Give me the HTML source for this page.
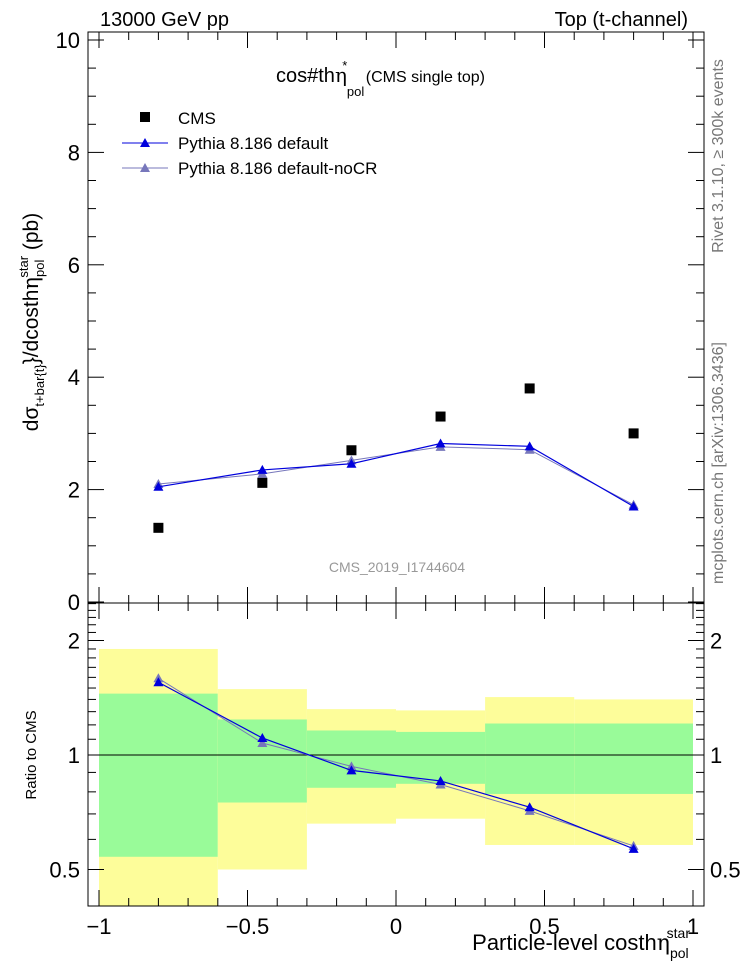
<!DOCTYPE html>
<html><head><meta charset="utf-8"><style>
body{margin:0;background:#fff}
svg{display:block;font-family:"Liberation Sans",sans-serif}
</style></head><body>
<svg id="c" width="746" height="972" viewBox="0 0 746 972"></svg>
<script>
const xCenters=[-0.8,-0.45,-0.15,0.15,0.45,0.8];
const binEdges=[-1,-0.6,-0.3,0,0.3,0.6,1];
const cmsVals=[1.32,2.12,2.7,3.3,3.8,3.0];
const pyDefault=[2.05,2.35,2.46,2.82,2.77,1.70];
const pyNoCR=[2.1,2.28,2.52,2.76,2.71,1.73];
const yellowHi=[1.9,1.49,1.32,1.31,1.42,1.40];
const yellowLo=[0.38,0.5,0.66,0.68,0.58,0.58];
const greenHi=[1.45,1.24,1.16,1.15,1.21,1.21];
const greenLo=[0.54,0.75,0.82,0.84,0.79,0.79];
const mainTicks=[0,2,4,6,8,10];
const ratioTicks=[0.5,1,2];
const xTicks=[-1,-0.5,0,0.5,1];
const xTickLabels=["−1","−0.5","0","0.5","1"];

const svg=document.getElementById('c');
const NS='http://www.w3.org/2000/svg';
function el(t,a,p){const e=document.createElementNS(NS,t);for(const k in a)e.setAttribute(k,a[k]);(p||svg).appendChild(e);return e;}
const L=88,R=704,T=32,MB=603,RB=906;
const X=v=>99+(v+1)*297;
const Y=v=>602-v*56.2;
const YR=v=>755-Math.log2(v)*114.5;

for(let i=0;i<6;i++){
  let x0=X(binEdges[i]),x1=X(binEdges[i+1]);
  let r=el('rect',{x:x0,y:YR(yellowHi[i]),width:x1-x0,height:Math.min(RB,YR(yellowLo[i]))-YR(yellowHi[i]),fill:'#fdfd9a'});
  
  let g=el('rect',{x:x0,y:YR(greenHi[i]),width:x1-x0,height:YR(greenLo[i])-YR(greenHi[i]),fill:'#99fb99'});
  
}
el('line',{x1:L,x2:R,y1:YR(1),y2:YR(1),stroke:'#000','stroke-width':1});

el('rect',{x:L,y:T,width:R-L,height:MB-T,fill:'none',stroke:'#000'});
el('rect',{x:L,y:MB,width:R-L,height:RB-MB,fill:'none',stroke:'#000'});

[[T,MB],[MB,RB]].forEach(([t,b])=>{
  for(let v=-1;v<=1.001;v+=0.1){
    const major=Math.abs(v*2-Math.round(v*2))<1e-6;
    const h=major?16:8;const x=X(v);
    el('line',{x1:x,x2:x,y1:b,y2:b-h,stroke:'#000'});
    el('line',{x1:x,x2:x,y1:t,y2:t+h,stroke:'#000'});
  }
});
xTicks.forEach((v,i)=>{let t=el('text',{x:X(v),y:934,'font-size':22,'text-anchor':'middle'});t.textContent=xTickLabels[i];
});

for(let v=0;v<=10.01;v+=0.5){
  const major=Math.abs(v-Math.round(v/2)*2)<1e-6;const h=major?16:8;const y=Y(v);
  el('line',{x1:L,x2:L+h,y1:y,y2:y,stroke:'#000'});el('line',{x1:R,x2:R-h,y1:y,y2:y,stroke:'#000'});
}
mainTicks.forEach(v=>{let t=el('text',{x:80,y:Y(v)+8,'font-size':22,'text-anchor':'end'});t.textContent=String(v);
});

for(let v=0.4;v<=2.51;v+=0.1){
  const vv=Math.round(v*10)/10;const major=ratioTicks.includes(vv);const h=major?16:8;const y=YR(vv);
  if(y<MB||y>RB)continue;
  el('line',{x1:L,x2:L+h,y1:y,y2:y,stroke:'#000'});el('line',{x1:R,x2:R-h,y1:y,y2:y,stroke:'#000'});
}
ratioTicks.forEach(v=>{
  let t=el('text',{x:80,y:YR(v)+8,'font-size':22,'text-anchor':'end'});t.textContent=String(v);
  
  let t2=el('text',{x:710,y:YR(v)+8,'font-size':22});t2.textContent=String(v);
  
});

function tri(x,y,c,name){let p=el('polygon',{points:`${x},${y-5} ${x-5},${y+4} ${x+5},${y+4}`,fill:c});
}
function series(vals,c,w,name,fy){
  el('polyline',{points:vals.map((v,i)=>X(xCenters[i])+','+fy(v,i)).join(' '),fill:'none',stroke:c,'stroke-width':w});
  vals.forEach((v,i)=>tri(X(xCenters[i]),fy(v,i),c,name+'-point'));
}
series(pyNoCR,'#7777bb',1,'nocr',v=>Y(v));
series(pyDefault,'#0000dd',1.2,'default',v=>Y(v));
cmsVals.forEach((v,i)=>{let r=el('rect',{x:X(xCenters[i])-5,y:Y(v)-5,width:10,height:10,fill:'#000'});
});
series(pyNoCR,'#7777bb',1,'nocr-ratio',(v,i)=>YR(v/cmsVals[i]));
series(pyDefault,'#0000dd',1.2,'default-ratio',(v,i)=>YR(v/cmsVals[i]));
</script>
<svg style="position:absolute;left:0;top:0" width="746" height="972" font-family="Liberation Sans, sans-serif">
<text x="100" y="26" font-size="20">13000 GeV pp</text>
<text x="688" y="26" font-size="20" text-anchor="end">Top (t-channel)</text>
<text x="276" y="82" font-size="20">cos#th<tspan font-family="DejaVu Serif">η</tspan><tspan font-size="13" dy="14">pol</tspan><tspan font-size="13" dx="-22" dy="-26">*</tspan><tspan font-size="16" dx="14" dy="12"> (CMS single top)</tspan></text>
<g>
<rect x="140" y="112" width="10" height="10" fill="#000"/>
<text x="178" y="124" font-size="17">CMS</text>
<line x1="122" x2="168" y1="143" y2="143" stroke="#0000dd"/><polygon points="145,138 140,147 150,147" fill="#0000dd"/>
<text x="178" y="149" font-size="17">Pythia 8.186 default</text>
<line x1="122" x2="168" y1="168" y2="168" stroke="#7777bb"/><polygon points="145,163 140,172 150,172" fill="#7777bb"/>
<text x="178" y="174" font-size="17">Pythia 8.186 default-noCR</text>
</g>
<text x="397" y="572" font-size="14" fill="#999" text-anchor="middle">CMS_2019_I1744604</text>
<text transform="translate(38,322) rotate(-90)" font-size="21" text-anchor="middle">dσ<tspan font-size="13" dy="6">t+bar{t}</tspan><tspan dy="-6">}/dcosth</tspan><tspan font-family="DejaVu Serif">η</tspan><tspan font-size="13" dy="6">pol</tspan><tspan font-size="13" dx="-18" dy="-16">star</tspan><tspan dy="10">  (pb)</tspan></text>
<text transform="translate(36,755) rotate(-90)" font-size="15" text-anchor="middle">Ratio to CMS</text>
<text x="690" y="950" font-size="22" text-anchor="end">Particle-level costh<tspan font-family="DejaVu Serif">η</tspan><tspan font-size="14" dy="8">pol</tspan><tspan font-size="14" dx="-22" dy="-20">star</tspan></text>
<text transform="translate(723,156) rotate(-90)" font-size="16" fill="#777" text-anchor="middle">Rivet 3.1.10, ≥ 300k events</text>
<text transform="translate(723,463) rotate(-90)" font-size="16" fill="#777" text-anchor="middle">mcplots.cern.ch [arXiv:1306.3436]</text>
</svg>
</body></html>
